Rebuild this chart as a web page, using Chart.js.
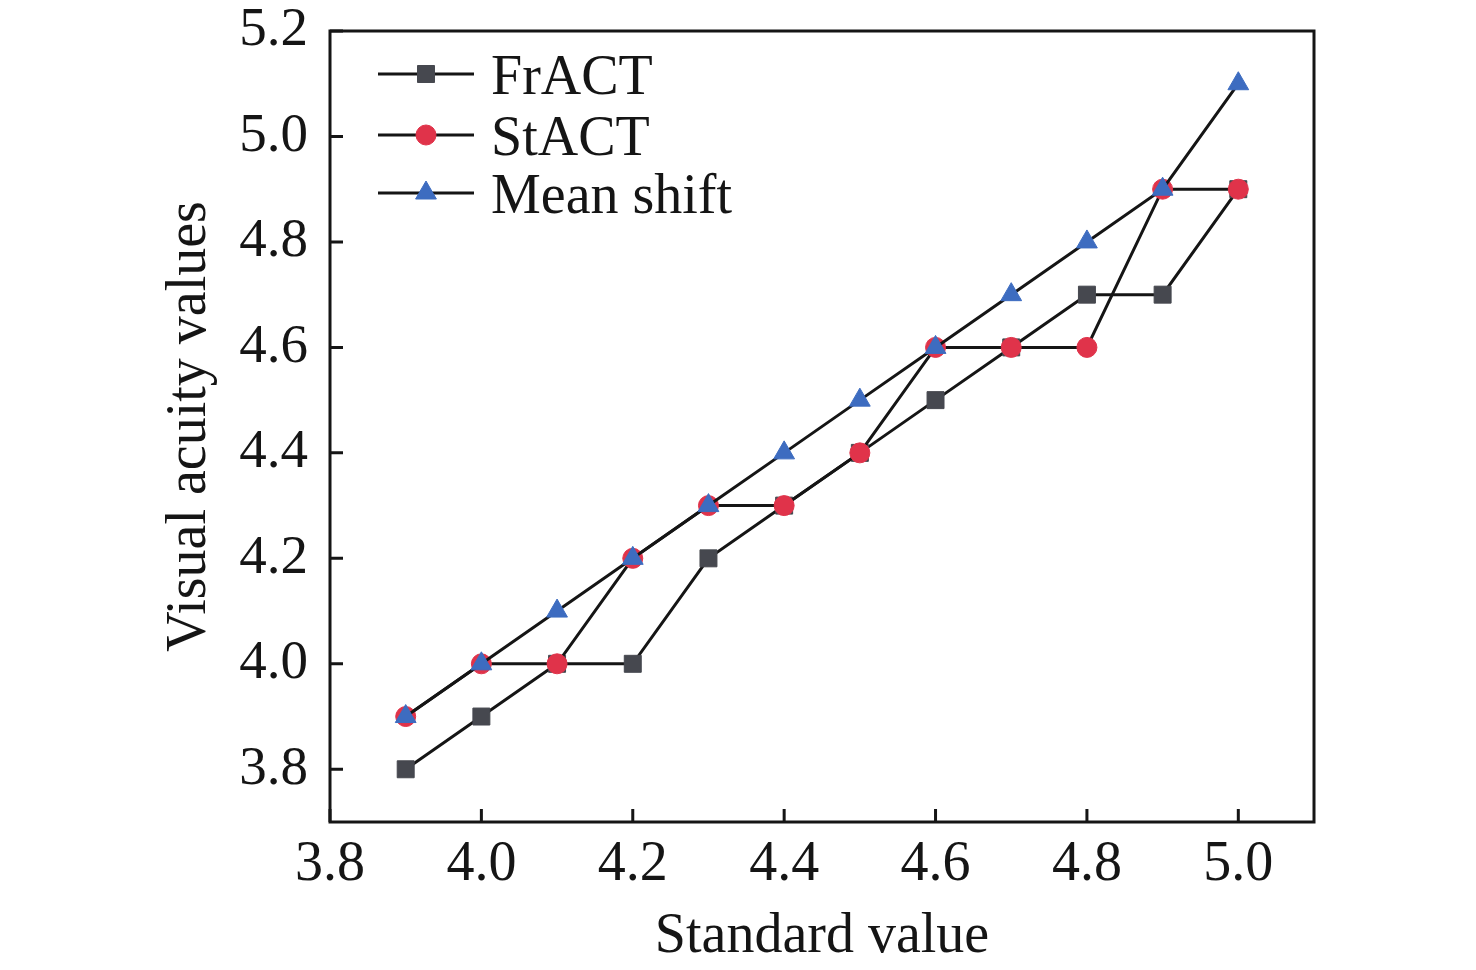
<!DOCTYPE html>
<html>
<head>
<meta charset="utf-8">
<script src="https://cdn.jsdelivr.net/npm/chart.js@4.4.0/dist/chart.umd.min.js"></script>
<style>
  html, body { margin: 0; padding: 0; background: #fff; }
  #wrap { width: 1476px; height: 970px; position: relative; }
</style>
</head>
<body>
<div id="wrap"><canvas id="grafico"></canvas></div>
<script>
const standardValues = [3.9, 4.0, 4.1, 4.2, 4.3, 4.4, 4.5, 4.6, 4.7, 4.8, 4.9, 5.0];
const fract = [3.8, 3.9, 4.0, 4.0, 4.2, 4.3, 4.4, 4.5, 4.6, 4.7, 4.7, 4.9];
const stact = [3.9, 4.0, 4.0, 4.2, 4.3, 4.3, 4.4, 4.6, 4.6, 4.6, 4.9, 4.9];
const meanShift = [3.9, 4.0, 4.1, 4.2, 4.3, 4.4, 4.5, 4.6, 4.7, 4.8, 4.9, 5.1];
const seriesNames = ['FrACT', 'StACT', 'Mean shift'];
const xTicks = [3.8, 4.0, 4.2, 4.4, 4.6, 4.8, 5.0];
const yTicks = [3.8, 4.0, 4.2, 4.4, 4.6, 4.8, 5.0, 5.2];

const serif = "'Liberation Serif', 'Times New Roman', serif";
const toPoints = (ys) => standardValues.map((x, i) => ({ x: x, y: ys[i] }));

function makeSet(label, ys, style, color, order) {
  return {
    label: label,
    data: toPoints(ys),
    borderColor: '#151515',
    borderWidth: 3,
    pointStyle: style,
    pointRadius: style === 'circle' ? 10 : 12,
    pointHoverRadius: style === 'circle' ? 10 : 12,
    pointBackgroundColor: color,
    pointBorderColor: color,
    pointBorderWidth: 1,
    tension: 0,
    fill: false,
    order: order
  };
}

const datasets = [
  makeSet(seriesNames[0], fract, 'rect', '#46484f', 3),
  makeSet(seriesNames[1], stact, 'circle', '#e0334a', 2),
  makeSet(seriesNames[2], meanShift, 'triangle', '#3d6cc0', 1)
];

// box round the plot, inward ticks and the legend with line + marker
const framePlugin = {
  id: 'frame',
  afterDraw(chart) {
    const ctx = chart.ctx;
    const a = chart.chartArea;
    const xs = chart.scales.x, ys = chart.scales.y;
    ctx.save();
    ctx.strokeStyle = '#151515';
    ctx.lineWidth = 3;
    ctx.strokeRect(a.left, a.top, a.right - a.left, a.bottom - a.top);
    ctx.beginPath();
    xTicks.forEach(v => {
      const px = xs.getPixelForValue(v);
      ctx.moveTo(px, a.bottom);
      ctx.lineTo(px, a.bottom - 13);
    });
    yTicks.forEach(v => {
      const py = ys.getPixelForValue(v);
      ctx.moveTo(a.left, py);
      ctx.lineTo(a.left + 13, py);
    });
    ctx.stroke();

    // legend
    const rows = [43, 104, 162];
    chart.data.datasets.forEach((ds, i) => {
      const y = a.top + rows[i];
      ctx.strokeStyle = '#151515';
      ctx.lineWidth = 3;
      ctx.beginPath();
      ctx.moveTo(a.left + 48, y);
      ctx.lineTo(a.left + 144, y);
      ctx.stroke();
      ctx.fillStyle = ds.pointBackgroundColor;
      ctx.strokeStyle = ds.pointBorderColor;
      ctx.lineWidth = 1;
      Chart.helpers.drawPoint(ctx, {
        pointStyle: ds.pointStyle,
        radius: ds.pointRadius,
        borderWidth: 1,
        rotation: 0
      }, a.left + 96, y);
      ctx.fillStyle = '#151515';
      ctx.font = '56px ' + serif;
      ctx.textAlign = 'left';
      ctx.textBaseline = 'alphabetic';
      ctx.fillText(ds.label, a.left + 161, y + 20);
    });
    ctx.restore();
  }
};

const ctx = document.getElementById('grafico').getContext('2d');
const graph = new Chart(ctx, {
  type: 'line',
  data: { datasets: datasets },
  options: {
    responsive: true,
    maintainAspectRatio: false,
    animation: false,
    layout: { padding: { top: 31, right: 162, left: 0, bottom: 0 } },
    plugins: {
      legend: { display: false },
      tooltip: { enabled: false }
    },
    scales: {
      x: {
        type: 'linear',
        min: 3.8,
        max: 5.1,
        afterBuildTicks: (scale) => { scale.ticks = xTicks.map(v => ({ value: v })); },
        afterFit: (scale) => {
          scale.height = 148;
          scale.paddingLeft = 0;
          scale.paddingRight = 0;
        },
        grid: { display: false, drawTicks: false },
        border: { display: false },
        ticks: {
          color: '#151515',
          padding: 10,
          font: { family: serif, size: 56 },
          callback: (v) => v.toFixed(1)
        },
        title: {
          display: true,
          text: 'Standard value',
          color: '#151515',
          font: { family: serif, size: 56 },
          padding: { top: 0, bottom: -1 }
        }
      },
      y: {
        type: 'linear',
        min: 3.7,
        max: 5.2,
        afterBuildTicks: (scale) => { scale.ticks = yTicks.map(v => ({ value: v })); },
        afterFit: (scale) => {
          scale.width = 330;
          scale.paddingTop = 0;
          scale.paddingBottom = 0;
        },
        grid: { display: false, drawTicks: false },
        border: { display: false },
        ticks: {
          color: '#151515',
          padding: 22,
          font: { family: serif, size: 55 },
          callback: (v) => v.toFixed(1)
        },
        title: {
          display: true,
          text: 'Visual acuity values',
          color: '#151515',
          font: { family: serif, size: 56 },
          padding: { top: 157, bottom: 0 }
        }
      }
    }
  },
  plugins: [framePlugin]
});
</script>
</body>
</html>
